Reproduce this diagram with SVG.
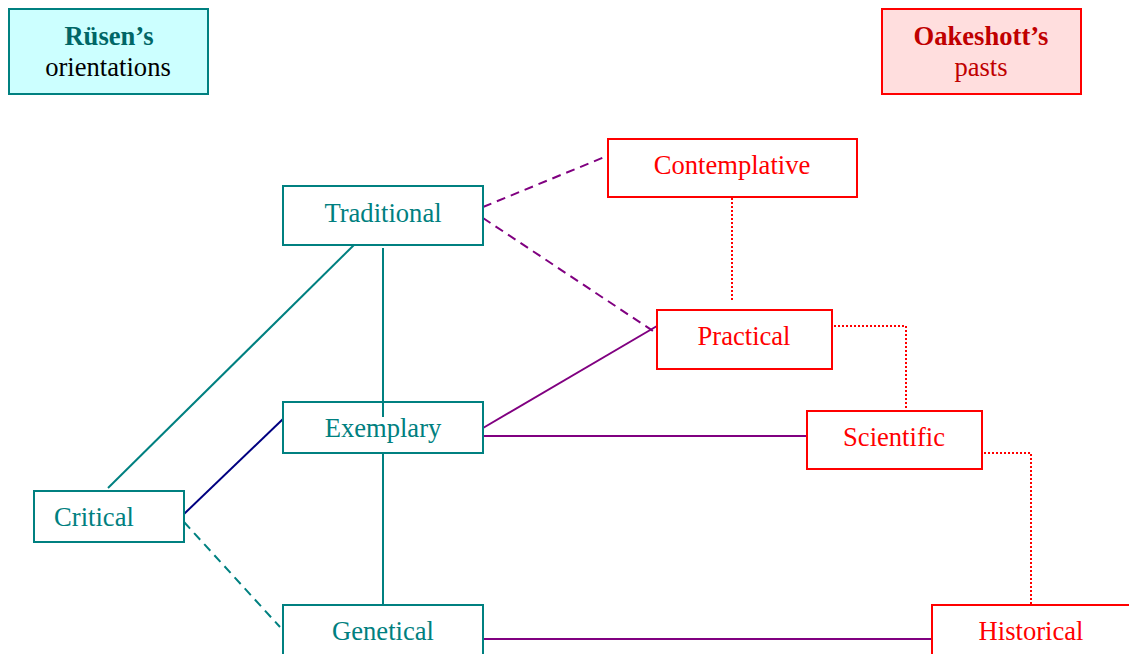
<svg xmlns="http://www.w3.org/2000/svg" width="1129" height="654" viewBox="0 0 1129 654">
  <style>
    text { font-family: "Liberation Serif", "Times New Roman", serif; font-size: 26.6px; text-anchor: middle; }
    .box { fill: #ffffff; stroke-width: 2; }
    .teal { stroke: #008080; }
    .red { stroke: #ff0000; }
    .tealtxt { fill: #008080; }
    .redtxt { fill: #ff0000; }
    .conn { fill: none; stroke-width: 2; }
    .c-teal { stroke: #008080; }
    .c-purple { stroke: #800080; }
    .c-navy { stroke: #000080; }
    .c-red { stroke: #ff0000; }
    .dash { stroke-dasharray: 9 6; }
    .dot { stroke-dasharray: 2 2; }
  </style>

  <!-- legend boxes -->
  <g id="legend-rusen">
    <rect x="9" y="9" width="199" height="85" fill="#ccffff" stroke="#008080" stroke-width="2"/>
    <text x="109" y="45" font-weight="bold" fill="#006666">Rüsen’s</text>
    <text x="108" y="76" fill="#000000">orientations</text>
  </g>
  <g id="legend-oakeshott">
    <rect x="882" y="9" width="199" height="85" fill="#ffdede" stroke="#ff0000" stroke-width="2"/>
    <text x="981" y="45" font-weight="bold" fill="#c00000">Oakeshott’s</text>
    <text x="981" y="76" fill="#c00000">pasts</text>
  </g>

  <!-- connectors -->
  <g id="connectors">
    <line class="conn c-purple dash" x1="483" y1="207" x2="607" y2="156"/>
    <line class="conn c-purple dash" x1="483" y1="218" x2="656" y2="333"/>
    <line class="conn c-purple" x1="483" y1="428" x2="657" y2="326"/>
    <line class="conn c-purple" x1="483" y1="436" x2="807" y2="436"/>
    <line class="conn c-purple" x1="483" y1="639" x2="932" y2="639"/>
    <line class="conn c-red dot" x1="732" y1="198" x2="732" y2="300"/>
    <polyline class="conn c-red dot" points="834,326 906,326 906,410"/>
    <polyline class="conn c-red dot" points="984,453 1031,453 1031,605"/>
    <line class="conn c-teal" x1="383" y1="248" x2="383" y2="417"/>
    <line class="conn c-teal" x1="383" y1="453" x2="383" y2="605"/>
    <line class="conn c-teal" x1="108" y1="488" x2="358" y2="241"/>
    <line class="conn c-navy" x1="184" y1="514" x2="283" y2="419"/>
    <line class="conn c-teal dash" x1="184" y1="522" x2="280" y2="627"/>
  </g>

  <!-- Rüsen nodes -->
  <g id="traditional">
    <rect class="box teal" x="283" y="186" width="200" height="59"/>
    <text class="tealtxt" x="383" y="222">Traditional</text>
  </g>
  <g id="exemplary">
    <rect class="box teal" x="283" y="402" width="200" height="51" style="fill:none"/>
    <text class="tealtxt" x="383" y="437">Exemplary</text>
  </g>
  <g id="critical">
    <rect class="box teal" x="34" y="491" width="150" height="51"/>
    <text class="tealtxt" x="94" y="526">Critical</text>
  </g>
  <g id="genetical">
    <rect class="box teal" x="283" y="605" width="200" height="60"/>
    <text class="tealtxt" x="383" y="640">Genetical</text>
  </g>

  <!-- Oakeshott nodes -->
  <g id="contemplative">
    <rect class="box red" x="608" y="139" width="249" height="58"/>
    <text class="redtxt" x="732" y="174">Contemplative</text>
  </g>
  <g id="practical">
    <rect class="box red" x="657" y="310" width="175" height="59"/>
    <text class="redtxt" x="744" y="345">Practical</text>
  </g>
  <g id="scientific">
    <rect class="box red" x="807" y="411" width="175" height="58"/>
    <text class="redtxt" x="894" y="446">Scientific</text>
  </g>
  <g id="historical">
    <rect class="box red" x="932" y="605" width="210" height="60"/>
    <text class="redtxt" x="1031" y="640">Historical</text>
  </g>
</svg>
